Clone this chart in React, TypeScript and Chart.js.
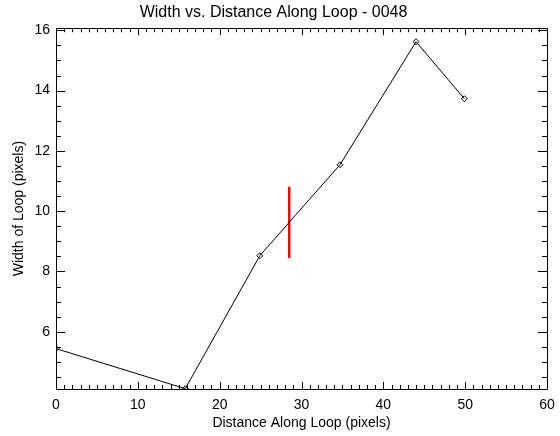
import React, { useEffect, useRef } from "react";
import { Chart, registerables } from "chart.js";

Chart.register(...registerables);

const distance = [0, 15.8, 24.9, 34.7, 44.0, 49.9];
const width = [5.44, 4.11, 8.52, 11.54, 15.62, 13.73];
const markerX = [28.5, 28.5];
const markerY = [8.45, 10.81];
const xTicks = [0, 10, 20, 30, 40, 50, 60];
const yTicks = [6, 8, 10, 12, 14, 16];
const xRange = [0, 60];
const yRange = [4.1, 16.07];
const xMinorStep = 1;
const yMinorStep = 0.5;

const FONT = "'Liberation Sans', 'DejaVu Sans', sans-serif";

const framePlugin = {
  id: "idlFrame",
  afterDraw(chart: any) {
    const { ctx, chartArea: a, scales } = chart;
    const xs = scales.x;
    const ys = scales.y;
    ctx.save();
    ctx.strokeStyle = "#000";
    ctx.lineWidth = 1;
    ctx.beginPath();
    ctx.rect(Math.round(a.left) + 0.5, Math.round(a.top) + 0.5, Math.round(a.right - a.left), Math.round(a.bottom - a.top));
    ctx.stroke();
    ctx.beginPath();
    for (let v = xRange[0]; v <= xRange[1] + 1e-9; v += xMinorStep) {
      const major = Math.abs(v / 10 - Math.round(v / 10)) < 1e-6;
      const len = major ? 7 : 4;
      const px = Math.round(xs.getPixelForValue(v)) + 0.5;
      ctx.moveTo(px, a.bottom);
      ctx.lineTo(px, a.bottom - len);
      ctx.moveTo(px, a.top);
      ctx.lineTo(px, a.top + len);
    }
    const start = Math.ceil(yRange[0] / yMinorStep) * yMinorStep;
    for (let v = start; v <= yRange[1] + 1e-9; v += yMinorStep) {
      const major = Math.abs(v / 2 - Math.round(v / 2)) < 1e-6;
      const len = major ? 9 : 5;
      const py = Math.round(ys.getPixelForValue(v)) + 0.5;
      ctx.moveTo(a.left, py);
      ctx.lineTo(a.left + len, py);
      ctx.moveTo(a.right, py);
      ctx.lineTo(a.right - len, py);
    }
    ctx.stroke();
    ctx.restore();
  },
};

export default function App() {
  const ref = useRef<HTMLCanvasElement | null>(null);
  useEffect(() => {
    if (!ref.current) return;
    const chart = new Chart(ref.current, {
      type: "line",
      data: {
        datasets: [
          {
            data: distance.map((x, i) => ({ x, y: width[i] })),
            borderColor: "#000",
            borderWidth: 1,
            pointStyle: "rectRot",
            pointRadius: 3,
            pointBackgroundColor: "rgba(255,255,255,0)",
            pointBorderColor: "#000",
            pointBorderWidth: 1,
            tension: 0,
          },
          {
            data: markerX.map((x, i) => ({ x, y: markerY[i] })),
            borderColor: "#ff0000",
            borderWidth: 2.5,
            pointRadius: 0,
          },
        ],
      },
      options: {
        animation: false,
        responsive: false,
        devicePixelRatio: 1,
        layout: { padding: { left: 0, right: 13, top: 0, bottom: 0 } },
        plugins: {
          legend: { display: false },
          tooltip: { enabled: false },
          title: {
            display: true,
            text: "Width vs. Distance Along Loop - 0048",
            color: "#000",
            font: { family: FONT, size: 16, weight: "normal" },
            padding: { top: 3, bottom: 6 },
          },
        },
        scales: {
          x: {
            type: "linear",
            min: xRange[0],
            max: xRange[1],
            grid: { display: false, drawTicks: false },
            border: { display: false },
            afterBuildTicks: (s: any) => {
              s.ticks = xTicks.map((v) => ({ value: v }));
            },
            afterFit: (s: any) => {
              s.height = 47;
              s.paddingLeft = 0;
              s.paddingRight = 0;
            },
            ticks: {
              color: "#000",
              padding: 8,
              maxRotation: 0,
              font: { family: FONT, size: 14 },
            },
            title: {
              display: true,
              text: "Distance Along Loop (pixels)",
              color: "#000",
              font: { family: FONT, size: 14 },
              padding: { top: 0, bottom: 4 },
            },
          },
          y: {
            type: "linear",
            min: yRange[0],
            max: yRange[1],
            grid: { display: false, drawTicks: false },
            border: { display: false },
            afterBuildTicks: (s: any) => {
              s.ticks = yTicks.map((v) => ({ value: v }));
            },
            afterFit: (s: any) => {
              s.width = 56;
              s.paddingTop = 0;
              s.paddingBottom = 0;
            },
            ticks: {
              color: "#000",
              padding: 6,
              font: { family: FONT, size: 14 },
            },
            title: {
              display: true,
              text: "Width of Loop (pixels)",
              color: "#000",
              font: { family: FONT, size: 14 },
              padding: { top: 11, bottom: 0 },
            },
          },
        },
      },
      plugins: [framePlugin],
    } as any);
    return () => chart.destroy();
  }, []);
  return (
    <div style={{ position: "fixed", left: 0, top: 0, width: 560, height: 436, background: "#fff" }}>
      <canvas ref={ref} width={560} height={436} style={{ display: "block" }} />
    </div>
  );
}
